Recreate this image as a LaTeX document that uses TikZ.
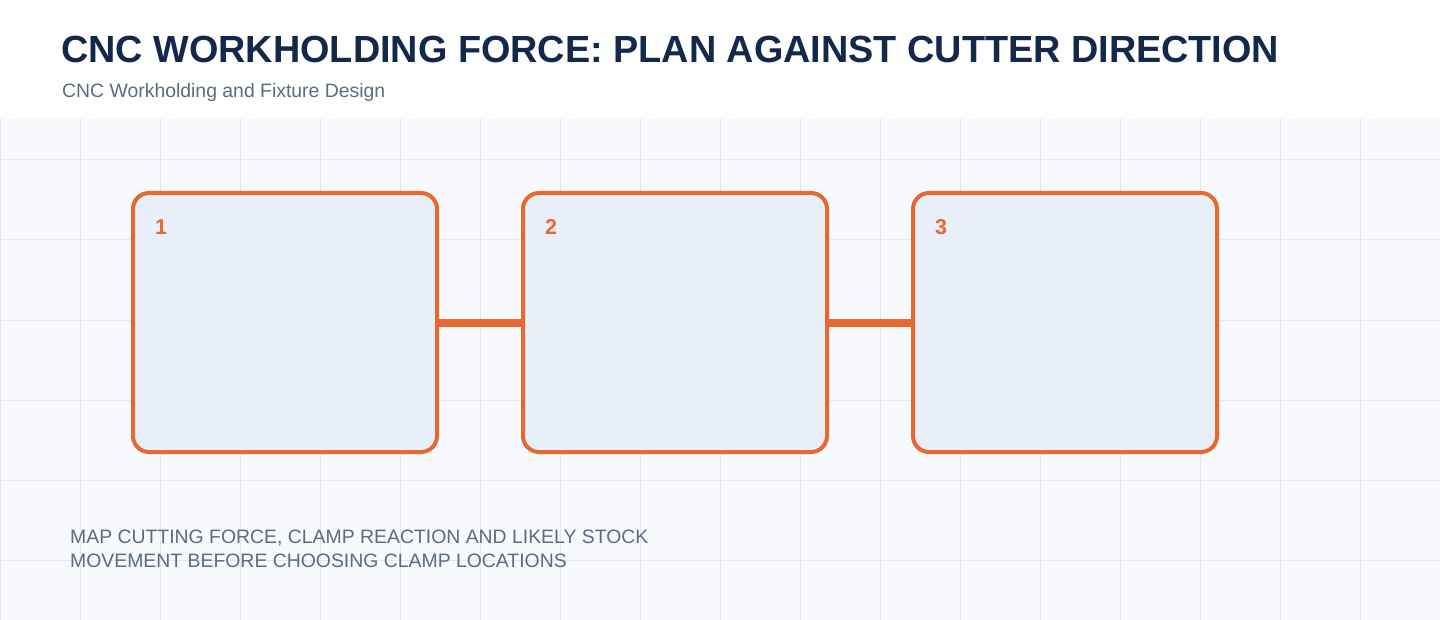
\documentclass[tikz,border=0pt]{standalone}
\usepackage{fontspec}
\setmainfont{Liberation Sans}
\usetikzlibrary{positioning}
\definecolor{navy}{HTML}{13294B}
\definecolor{slate}{HTML}{5B6B82}
\definecolor{paper}{HTML}{F7F9FC}
\definecolor{gridline}{HTML}{E3E7EE}
\definecolor{stepfill}{HTML}{E8EFF9}
\definecolor{cutter}{HTML}{E8692F}
\tikzset{
  stagebox/.style={draw=cutter,fill=stepfill,line width=4pt,rounded corners=16pt,
    minimum width=304pt,minimum height=259pt,inner sep=0pt},
  stagenum/.style={text=cutter,font=\fontsize{21.5}{21.5}\selectfont\bfseries,anchor=base west,inner sep=0pt},
  link/.style={draw=cutter,line width=8pt}
}
\begin{document}
\begin{tikzpicture}[x=1pt,y=-1pt]
\useasboundingbox (0,0) rectangle (1440,620);
\fill[white] (0,0) rectangle (1440,118);
\fill[paper] (0,118) rectangle (1440,620);
\draw[gridline,line width=1pt] (0,118)
foreach \x in {0,80,...,1440} { (\x,118) -- (\x,620) }
foreach \y in {160,240,...,560} { (0,\y) -- (1440,\y) };

\node[anchor=base west,inner sep=0pt,text=navy,font=\fontsize{37.8}{37.8}\selectfont\bfseries] (title) at (61,63) {CNC WORKHOLDING FORCE: PLAN AGAINST CUTTER DIRECTION};
\node[anchor=base west,inner sep=0pt,text=slate,font=\fontsize{19.4}{19.4}\selectfont] (subtitle) at (62,98) {CNC Workholding and Fixture Design};

\foreach \n/\cx in {1/285,2/675,3/1065} {
  \node[stagebox] (stage\n) at (\cx,322.5) {};
  \node[stagenum] (num\n) at ([xshift=24pt,yshift=-44pt]stage\n.north west) {\n};
}
\draw[link] (stage1.east) -- (stage2.west);
\draw[link] (stage2.east) -- (stage3.west);

\node[anchor=base west,inner sep=0pt,text=slate,align=left,font=\fontsize{19.4}{24}\selectfont] (note) at (70,567)
  {MAP CUTTING FORCE, CLAMP REACTION AND LIKELY STOCK\\MOVEMENT BEFORE CHOOSING CLAMP LOCATIONS};
\end{tikzpicture}
\end{document}
